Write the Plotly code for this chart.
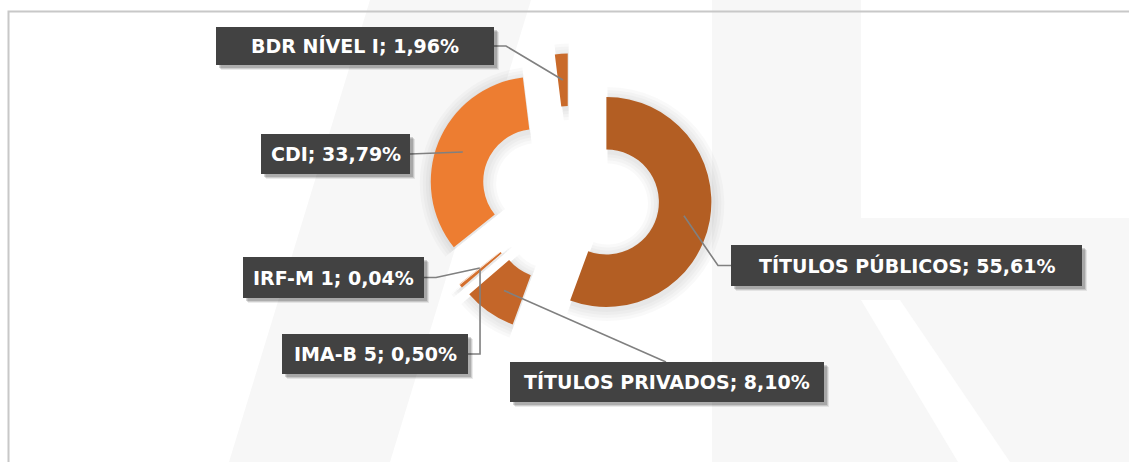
import math
import plotly.graph_objects as go

W, H = 1129, 462

# ---------------- data ----------------
labels = ["TÍTULOS PÚBLICOS", "TÍTULOS PRIVADOS", "IMA-B 5", "IRF-M 1", "CDI", "BDR NÍVEL I"]
values = [55.61, 8.10, 0.50, 0.04, 33.79, 1.96]
value_text = ["55,61%", "8,10%", "0,50%", "0,04%", "33,79%", "1,96%"]
colors = ["#B35E23", "#C46629", "#D46F2D", "#E0762F", "#ED7D31", "#C96A2A"]

# ---------------- geometry (pixels) ----------------
CX, CY = 570.0, 195.5      # pie centre
R = 105.0                  # outer radius
HOLE = 0.5
PULL = 0.352
SHIFT = PULL * R           # explosion distance in px


def px(x):
    return x / W


def py(y):
    return 1 - y / H


def pie_domain(r, cx=CX, cy=CY):
    side = 2 * r + 2 * SHIFT
    return dict(x=[(cx - side / 2) / W, (cx + side / 2) / W],
                y=[1 - (cy + side / 2) / H, 1 - (cy - side / 2) / H])


# mid-angle anchor for each slice (mid radius of the pulled ring)
total = sum(values)
anchors = []
cum = 0.0
for v in values:
    mid = (cum + v / 2) / total * 2 * math.pi
    cum += v
    dx, dy = math.sin(mid), -math.cos(mid)
    scx, scy = CX + SHIFT * dx, CY + SHIFT * dy
    rm = R * (1 + HOLE) / 2
    anchors.append((scx + rm * dx, scy + rm * dy))

# label boxes (x0, y0, x1, y1)
boxes = {
    "TÍTULOS PÚBLICOS": (731, 245, 1082, 286),
    "TÍTULOS PRIVADOS": (510, 362, 824, 402),
    "IMA-B 5": (282, 334, 468, 374),
    "IRF-M 1": (243, 257, 424, 298),
    "CDI": (261, 134, 410, 174),
    "BDR NÍVEL I": (216, 27, 494, 65),
}

shapes = []
annotations = []

# watermark (very faint background logo)
wm = "#f7f7f7"
shapes.append(dict(type="path", layer="below", xref="paper", yref="paper",
                   path=f"M {px(370)} {py(0)} L {px(531)} {py(0)} L {px(390)} {py(462)} L {px(229)} {py(462)} Z",
                   fillcolor=wm, line=dict(width=0)))
shapes.append(dict(type="rect", layer="below", xref="paper", yref="paper",
                   x0=px(712), x1=px(861), y0=py(0), y1=py(462),
                   fillcolor=wm, line=dict(width=0)))
shapes.append(dict(type="path", layer="below", xref="paper", yref="paper",
                   path=f"M {px(861)} {py(218)} L {px(1129)} {py(218)} L {px(1129)} {py(462)} L {px(861)} {py(462)} Z",
                   fillcolor=wm, line=dict(width=0)))
shapes.append(dict(type="path", layer="below", xref="paper", yref="paper",
                   path=f"M {px(861)} {py(300)} L {px(900)} {py(300)} L {px(1010)} {py(462)} L {px(958)} {py(462)} Z",
                   fillcolor="white", line=dict(width=0)))

# frame
shapes.append(dict(type="path", layer="below", xref="paper", yref="paper",
                   path=f"M {px(8.5)} {py(470)} L {px(8.5)} {py(11.5)} L {px(1140)} {py(11.5)}",
                   line=dict(color="#c8c8c8", width=2)))

# leader lines
lc = dict(color="#808080", width=1.6)
for i, lab in enumerate(labels):
    x0, y0, x1, y1 = boxes[lab]
    ax, ay = anchors[i]
    ym = (y0 + y1) / 2
    if lab == "TÍTULOS PÚBLICOS":
        pts = [(x0, ym), (x0 - 13, ym), (ax, ay)]
    elif lab == "TÍTULOS PRIVADOS":
        pts = [(x0 + 156, y0), (ax, ay)]
    elif lab == "IMA-B 5":
        pts = [(x1, ym), (ax - 1, ym), (ax - 1, ay)]
    elif lab == "IRF-M 1":
        pts = [(x1, ym), (x1 + 12, ym), (ax, ay)]
    elif lab == "CDI":
        pts = [(x1, ym), (ax, ay)]
    else:
        pts = [(x1, ym), (x1 + 12, ym), (ax, ay)]
    path = "M " + " L ".join(f"{px(a)} {py(b)}" for a, b in pts)
    shapes.append(dict(type="path", layer="above", xref="paper", yref="paper",
                       path=path, line=lc))

# label boxes with soft shadow
for i, lab in enumerate(labels):
    x0, y0, x1, y1 = boxes[lab]
    for off, op in ((5, 0.08), (4, 0.12), (3, 0.16)):
        shapes.append(dict(type="rect", layer="above", xref="paper", yref="paper",
                           x0=px(x0 + off), x1=px(x1 + off), y0=py(y1 + off), y1=py(y0 + off),
                           fillcolor=f"rgba(0,0,0,{op})", line=dict(width=0)))
    shapes.append(dict(type="rect", layer="above", xref="paper", yref="paper",
                       x0=px(x0), x1=px(x1), y0=py(y1), y1=py(y0),
                       fillcolor="#424242", line=dict(width=0)))
    annotations.append(dict(xref="paper", yref="paper", x=px((x0 + x1) / 2), y=py((y0 + y1) / 2),
                            xanchor="center", yanchor="middle", showarrow=False,
                            text=f"<b>{lab}; {value_text[i]}</b>",
                            font=dict(family="DejaVu Sans", size=19, color="white")))

fig = go.Figure()

# soft glow under the donut (stacked translucent rings)
for e in (12, 9, 6, 3):
    r = R + e
    fig.add_trace(go.Pie(
        labels=labels, values=values, sort=False, direction="clockwise", rotation=0,
        hole=max(R * HOLE - e, 1) / r, pull=[SHIFT / r] * len(values), textinfo="none",
        hoverinfo="skip", marker=dict(colors=["rgba(0,0,0,0.022)"] * len(values), line=dict(width=0)),
        showlegend=False, domain=pie_domain(r, CX + 1, CY + 2),
    ))

fig.add_trace(go.Pie(
    labels=labels, values=values, sort=False, direction="clockwise", rotation=0,
    hole=HOLE, pull=[PULL] * len(values), textinfo="none", hoverinfo="label+percent",
    marker=dict(colors=colors, line=dict(width=0)), showlegend=False,
    domain=pie_domain(R),
))

fig.update_layout(
    width=W, height=H, autosize=False,
    margin=dict(l=0, r=0, t=0, b=0),
    paper_bgcolor="white", plot_bgcolor="white",
    shapes=shapes, annotations=annotations,
)

fig.write_html("out.html", config={"displayModeBar": False},
               post_script="document.body.style.margin='0px';document.body.style.overflow='hidden';")
